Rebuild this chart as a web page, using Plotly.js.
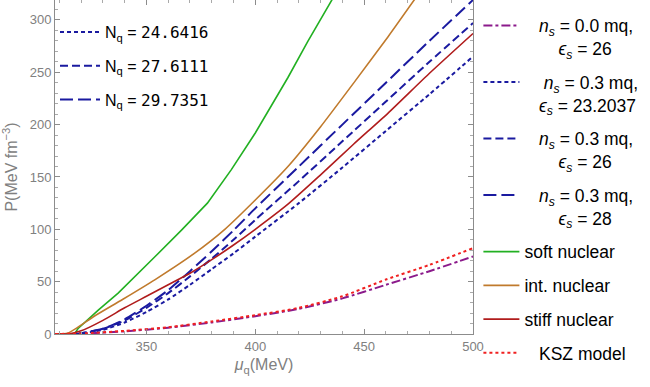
<!DOCTYPE html>
<html>
<head>
<meta charset="utf-8">
<script src="https://cdn.plot.ly/plotly-3.0.1.min.js"></script>
<style>html,body{margin:0;padding:0;background:#fff}#chart{width:650px;height:387px}</style>
</head>
<body>
<div id="chart"></div>
<script>
// ---- data ----
var muSoft = [308, 317, 318.5, 320, 328, 337, 346, 354, 366, 378, 389, 400, 415, 424, 436];
var pSoft  = [0, 0, 5, 8, 23, 39, 57, 74, 99, 125, 157, 192, 245, 279, 322];

var muInt = [308, 314, 326, 339, 354, 372, 386, 400, 415, 430, 446, 461, 474];
var pInt  = [0, 1, 17, 33, 52, 77, 100, 128, 160, 198, 242, 284, 322];

var muStiff = [308, 314, 320, 330, 340, 350, 360, 370, 380, 390, 400, 415, 430, 445, 461, 480, 500];
var pStiff  = [0, 0, 3, 13, 25, 36, 47, 58, 71, 85, 100, 124, 152, 181, 211, 249, 287];

var muQ = [308, 318, 330, 340, 350, 360, 370, 380, 390, 400, 420, 440, 460, 480, 500];
var pQ24 = [0, 0, 4, 11, 21, 33, 47, 62, 77, 93, 125, 159, 194, 229, 265];
var pQ27 = [0, 0, 5, 13, 25, 39, 55, 72, 90, 109, 146, 184, 222, 260, 297];
var pQ29 = [0, 0, 5, 14, 27, 42, 60, 79, 99, 120, 160, 200, 240, 280, 319];

var muLow = [308, 320, 340, 360, 380, 400, 420, 440, 460, 480, 500];
var pKSZ  = [0, 0.5, 3, 6.5, 12, 18, 25, 36, 52, 66, 82];
var pNs0  = [0, 0.3, 2.5, 6, 11, 17, 24, 34, 47, 60, 74];

var nqLabels = ['24.6416', '27.6111', '29.7351'];
var xTicks = [350, 400, 450, 500];
var yTicks = [0, 50, 100, 150, 200, 250, 300];

// ---- styles ----
var BLUE = '#1a1aa0';
var nb = function (n) { return new Array(n + 1).join('&nbsp;'); };
var ns = '<i>n</i><sub><i>s</i></sub>';
var es = '<i>ϵ</i><sub><i>s</i></sub>';
var dShort = '4px,3px', dMed = '8px,4px', dLong = '13px,5px';

function tr(x, y, name, color, dash, width, g) {
  return {x: x, y: y, type: 'scatter', mode: 'lines', name: name, legendgroup: g,
          line: {color: color, dash: dash, width: width, shape: 'spline', smoothing: 0.6}, hoverinfo: 'skip'};
}

var traces = [
  tr(muLow, pNs0, nb(3) + ns + ' = 0.0 mq,<br>' + nb(7) + es + ' = 26', '#8b1a8b', 'dashdot', 2, 'a'),
  tr(muQ, pQ24, nb(4) + ns + ' = 0.3 mq,<br>' + nb(3) + es + ' = 23.2037', BLUE, dShort, 2, 'b'),
  tr(muQ, pQ27, nb(3) + ns + ' = 0.3 mq,<br>' + nb(7) + es + ' = 26', BLUE, dMed, 2, 'c'),
  tr(muQ, pQ29, nb(3) + ns + ' = 0.3 mq,<br>' + nb(7) + es + ' = 28', BLUE, dLong, 2, 'd'),
  tr(muSoft, pSoft, 'soft nuclear', '#22b022', 'solid', 1.6, 'e'),
  tr(muInt, pInt, 'int. nuclear', '#c07a2c', 'solid', 1.6, 'f'),
  tr(muStiff, pStiff, 'stiff nuclear', '#b01c1c', 'solid', 1.6, 'g'),
  tr(muLow, pKSZ, nb(3) + 'KSZ model', '#f02020', '3px,3px', 2, 'h')
];
// the soft-nuclear curve has a sharp onset and a kink, keep it linear
traces[4].line.shape = 'linear';

var dashes = [dShort, dMed, dLong];
for (var i = 0; i < 3; i++) {
  traces.push({x: [null], y: [null], type: 'scatter', mode: 'lines', legend: 'legend2',
    legendgroup: 'q' + i,
    name: 'N<sub>q</sub> = <span style="font-family:\'DejaVu Sans Mono\'">' + nqLabels[i] + '</span>',
    line: {color: BLUE, dash: dashes[i], width: 2}, hoverinfo: 'skip'});
}

var axisCommon = {
  showline: true, mirror: 'allticks', linecolor: '#8c8c8c', linewidth: 1,
  ticks: 'inside', ticklen: 5, tickcolor: '#8c8c8c', showgrid: false, zeroline: false,
  tickfont: {family: 'Liberation Sans, Arial, sans-serif', size: 13, color: '#808080'},
  minor: {ticks: 'inside', ticklen: 3, tickcolor: '#aaaaaa', dtick: 10, showgrid: false}
};

var layout = {
  width: 650, height: 387,
  margin: {l: 55, r: 177, t: 0, b: 53, autoexpand: false},
  paper_bgcolor: '#fff', plot_bgcolor: '#fff',
  font: {family: 'Liberation Sans, Arial, sans-serif', color: '#000'},
  xaxis: Object.assign({}, axisCommon, {
    range: [308, 500], tickvals: xTicks,
    title: {text: '<i>μ</i><sub>q</sub>(MeV)', font: {size: 16, color: '#808080'}, standoff: 6}
  }),
  yaxis: Object.assign({}, axisCommon, {
    range: [0, 319], tickvals: yTicks, minor: Object.assign({}, axisCommon.minor, {dtick: 10, tick0: 0}),
    title: {text: 'P(MeV fm<sup>−3</sup>)', font: {size: 16, color: '#808080'}, standoff: 8}
  }),
  showlegend: true,
  legend: {
    xref: 'container', yref: 'container', x: 0.736, y: 0.98, xanchor: 'left', yanchor: 'top',
    font: {size: 17.5, color: '#000'}, bgcolor: 'rgba(0,0,0,0)', borderwidth: 0,
    tracegroupgap: 8, valign: 'top', traceorder: 'grouped', itemwidth: 36, maxheight: 385
  },
  legend2: {
    xref: 'paper', yref: 'paper', x: 0, y: 0.955, xanchor: 'left', yanchor: 'top',
    font: {size: 16, color: '#000'}, bgcolor: 'rgba(0,0,0,0)', borderwidth: 0,
    tracegroupgap: 10, traceorder: 'grouped', itemwidth: 40
  }
};

Plotly.newPlot('chart', traces, layout, {displayModeBar: false, staticPlot: true});
</script>
</body>
</html>
